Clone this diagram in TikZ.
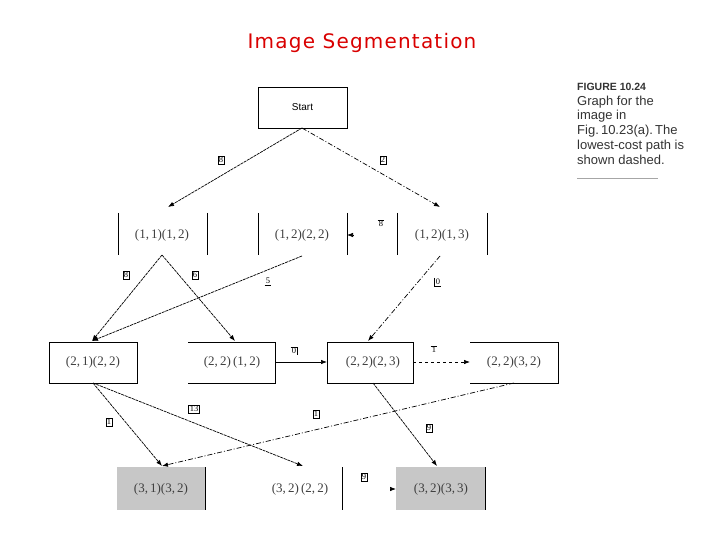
\documentclass[tikz,border=0pt]{standalone}
\usepackage{fontspec}
\setmainfont{Liberation Serif}
\newfontfamily\ttlfont[LetterSpace=6]{DejaVu Sans}
\newfontfamily\capfont{Liberation Sans}
\usetikzlibrary{arrows.meta}
\begin{document}
\begin{tikzpicture}[x=1pt,y=-1pt,
  st/.style={font=\fontsize{13}{15}\selectfont, text=black!75},
  bx/.style={draw, line width=0.7pt},
  lb/.style={draw, font=\fontsize{8.5}{9}\selectfont, inner sep=1pt, line width=0.6pt},
  ol/.style={font=\fontsize{8.5}{9}\selectfont, inner sep=1pt},
  ed/.style={-{Latex[length=6pt,width=4.5pt]}, line width=0.7pt, dash pattern=on 3pt off 0.8pt},
  dd/.style={-{Latex[length=6pt,width=4.5pt]}, line width=0.7pt, dash pattern=on 5pt off 2pt on 1pt off 2pt},
  ds/.style={-{Latex[length=6pt,width=4.5pt]}, line width=0.7pt, dashed},
  so/.style={-{Latex[length=6pt,width=4.5pt]}, line width=0.7pt}]
\useasboundingbox (0,0) rectangle (720,540);
\node[text=red!85!black, font=\ttlfont\fontsize{20}{22}\selectfont] (title) at (362,43) {Image Segmentation};
% caption
\node[anchor=north west, align=left, inner sep=0pt, font=\capfont\fontsize{13}{14.7}\selectfont, text=black!80] (capt) at (577,83)
 {\textbf{\fontsize{10.5}{12}\selectfont FIGURE 10.24}\\Graph for the\\image in\\Fig.\,10.23(a).\,The\\lowest-cost path is\\shown dashed.};
\draw[black!35, line width=1pt] (577,179) -- (658,179);
% start
\node[bx, minimum width=89pt, minimum height=41pt, font=\capfont\fontsize{10}{12}\selectfont] (start) at (302.5,107.5) {Start};
% row 1
\draw[line width=0.8pt] (118,213)--(118,255) (207,213)--(207,255) (258,213)--(258,255) (347,213)--(347,255) (397,213)--(397,255) (487,213)--(487,255);
\node[st] (a11) at (162,235) {(1,\,1)(1,\,2)};
\node[st] (a12) at (302,235) {(1,\,2)(2,\,2)};
\node[st] (a13) at (442,235) {(1,\,2)(1,\,3)};
\coordinate (pa) at (353,235); \coordinate (pb) at (347,235);
\draw[so] (pa) -- (pb);
\node[ol] (l8b) at (381,224) {8};
\draw[line width=0.5pt] (l8b.north west) -- (l8b.north east);
% row 2
\draw[line width=0.8pt] (49,342) rectangle (137,383);
\draw[line width=0.8pt] (188,342) -- (275,342) -- (275,383) -- (188,383);
\draw[line width=0.8pt] (327,342) rectangle (413,383);
\draw[line width=0.8pt] (470,342) -- (558,342) -- (558,383) -- (470,383);
\node[st] (b1) at (93,362) {(2,\,1)(2,\,2)};
\node[st] (b2) at (232,362) {(2,\,2)\,(1,\,2)};
\node[st] (b3) at (373,362) {(2,\,2)(2,\,3)};
\node[st] (b4) at (514,362) {(2,\,2)(3,\,2)};
% row 3
\fill[black!22] (117,467) rectangle (205,510);
\fill[black!22] (396,467) rectangle (485,510);
\draw[line width=0.8pt] (205,467)--(205,510) (342,467)--(342,510) (485,467)--(485,510);
\node[st] (c1) at (161,489) {(3,\,1)(3,\,2)};
\node[st] (c2) at (300,489) {(3,\,2)\,(2,\,2)};
\node[st] (c3) at (441,489) {(3,\,2)(3,\,3)};
\coordinate (qa) at (390,489); \coordinate (qb) at (396,489);
\draw[so] (qa) -- (qb);
% edge endpoints
\coordinate (s0) at (302,128);
\coordinate (a1t) at (168,207); \coordinate (a3t) at (440,207);
\coordinate (a1b) at (162,255); \coordinate (a2b) at (302,256); \coordinate (a3b) at (440,256);
\coordinate (b1t) at (92,341); \coordinate (b2t) at (235,341); \coordinate (b3t) at (368,341);
\coordinate (b1r) at (275,362); \coordinate (b3l) at (327,362);
\coordinate (b3r) at (413,362); \coordinate (b4l) at (470,362);
\coordinate (b1b) at (93,383); \coordinate (b3b) at (373,383); \coordinate (b4b) at (514,383);
\coordinate (c1t) at (162,466); \coordinate (c2t) at (303,466); \coordinate (c3t) at (437,466);
\draw[ed] (s0) -- (a1t);
\draw[dd] (s0) -- (a3t);
\draw[ed] (a1b) -- (b1t);
\draw[ed] (a1b) -- (b2t);
\draw[ed] (a2b) -- (b1t);
\draw[dd] (a3b) -- (b3t);
\draw[so] (b1r) -- (b3l);
\draw[ds] (b3r) -- (b4l);
\draw[ed] (b1b) -- (c1t);
\draw[ed] (b1b) -- (c2t);
\draw[dd] (b4b) -- (c1t);
\draw[ed] (b3b) -- (c3t);
% labels
\node[lb] (l1) at (221,160) {8};
\node[lb] (l2) at (383,160) {2};
\node[lb] (l3) at (126,275) {8};
\node[lb] (l4) at (195,275) {6};
\node[ol] (l5) at (268,281) {5}; \draw[line width=0.5pt] (l5.south west) -- (l5.south east);
\node[ol] (l6) at (438,282) {0}; \draw[line width=0.5pt] (l6.north west) -- (l6.south west) -- (l6.south east);
\node[ol] (l7) at (294,351) {0}; \draw[line width=0.5pt] (l7.north west) -- (l7.north east) -- (l7.south east);
\node[ol] (l8) at (434,350) {1}; \draw[line width=0.5pt] (l8.north west) -- (l8.north east);
\node[lb] (l9) at (109,422) {1};
\node[lb] (l10) at (194,409) {13};
\node[lb] (l11) at (316,414) {1};
\node[lb] (l12) at (429,428) {9};
\node[lb] (l13) at (364,477) {9};
\end{tikzpicture}
\end{document}
